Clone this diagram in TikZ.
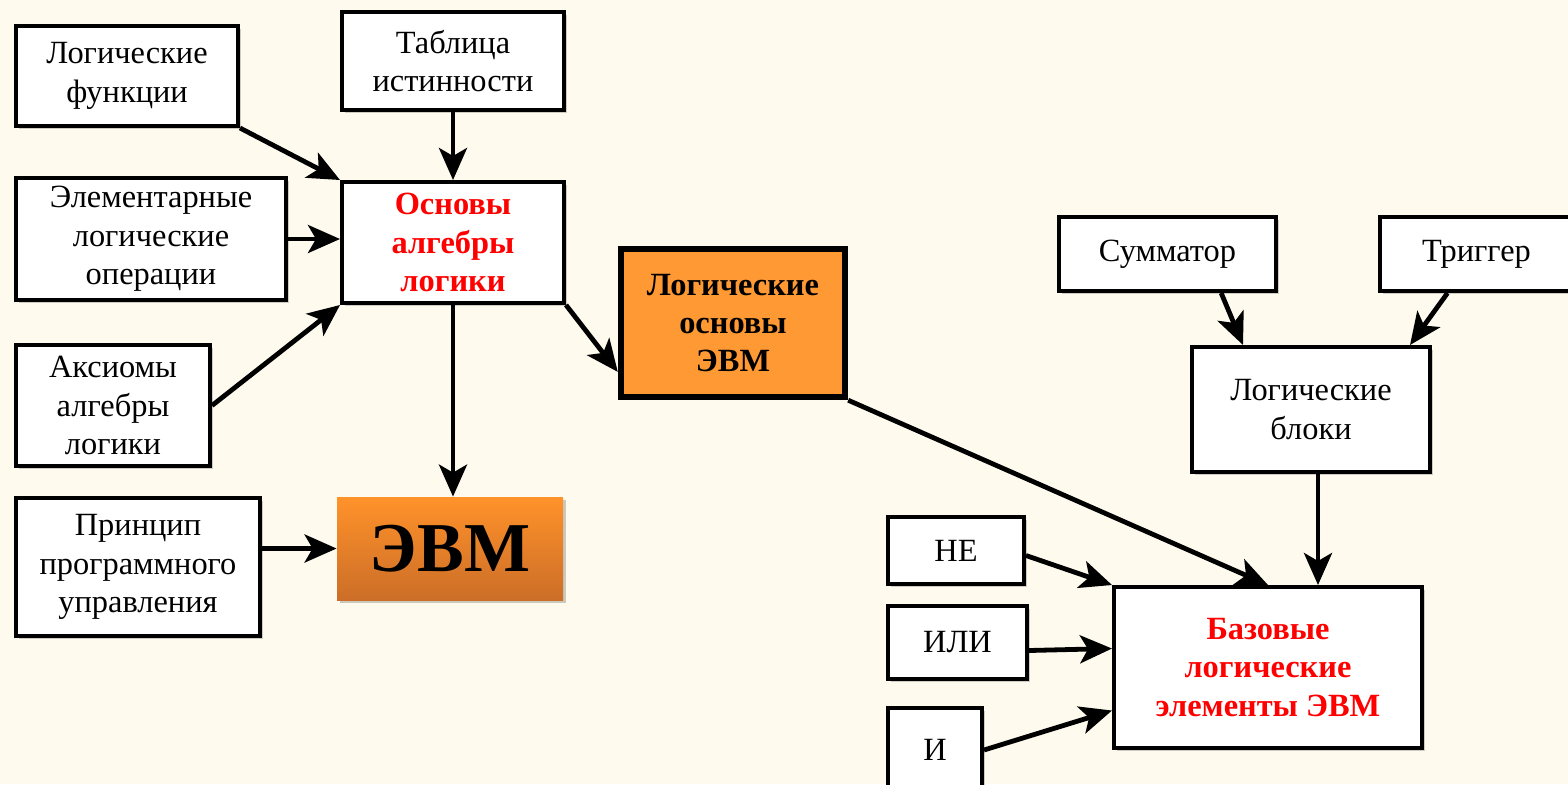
\documentclass[tikz,border=0pt]{standalone}
\usepackage{fontspec}
\setmainfont{Liberation Serif}
\usetikzlibrary{arrows.meta,calc,shadows}
\definecolor{bgcream}{RGB}{254,250,238}
\definecolor{boxorange}{RGB}{255,153,51}
\definecolor{evmtop}{RGB}{255,146,42}
\definecolor{evmbot}{RGB}{204,110,40}
\definecolor{hubred}{RGB}{255,0,0}

\begin{document}
\begin{tikzpicture}[x=0.5pt,y=-0.5pt,
    box/.style={draw=black,line width=2pt,fill=white,align=center,inner sep=0pt,
      font=\fontsize{16.2}{19.2}\selectfont,
      drop shadow={shadow xshift=1.5pt,shadow yshift=-1.5pt,opacity=0.18,fill=black}},
    hub/.style={box,font=\fontsize{16.2}{19.2}\selectfont\bfseries,text=hubred},
    arr/.style={line width=2.4pt,-{Stealth[length=16pt,width=14pt,inset=4pt]}}]
    % background and frame
    \fill[bgcream] (0,0) rectangle (1568,784);
    \useasboundingbox (0,0) rectangle (1568,784);
    \clip (0,0) rectangle (1568,784);

    % left part
    \node[box,minimum width=111pt,minimum height=50pt] (funk) at (127,76) {Логические\\функции};
    \node[box,minimum width=111pt,minimum height=49pt] (tabl) at (453,61) {Таблица\\истинности};
    \node[box,minimum width=135pt,minimum height=61pt] (elem) at (151,239) {Элементарные\\логические\\операции};
    \node[hub,minimum width=111pt,minimum height=60.5pt] (osn) at (453,242.5) {Основы\\алгебры\\логики};
    \node[box,minimum width=97pt,minimum height=60.5pt] (aks) at (113,405.5) {Аксиомы\\алгебры\\логики};
    \node[box,minimum width=122pt,minimum height=69pt] (prin) at (138,567) {Принцип\\программного\\управления};
    \node[top color=evmtop,bottom color=evmbot,minimum width=113pt,minimum height=51.5pt,
      font=\fontsize{35}{40}\selectfont\bfseries,
      drop shadow={shadow xshift=1.5pt,shadow yshift=-1.5pt,opacity=0.2,fill=black}] (evm) at (450,548.5) {ЭВМ};

    % middle
    \node[box,fill=boxorange,line width=3.2pt,minimum width=112pt,minimum height=74pt,
      font=\fontsize{16.2}{19.2}\selectfont\bfseries] (logosn) at (733,323) {Логические\\основы\\ЭВМ};

    % right part
    \node[box,minimum width=108.5pt,minimum height=37pt] (summ) at (1167.5,254) {Сумматор};
    \node[box,minimum width=96.5pt,minimum height=37pt] (trig) at (1476.5,254) {Триггер};
    \node[box,minimum width=119pt,minimum height=62.5pt] (bloki) at (1311,409.5) {Логические\\блоки};
    \node[box,minimum width=68pt,minimum height=33.5pt] (ne) at (956,550.5) {НЕ};
    \node[box,minimum width=69.5pt,minimum height=36.5pt] (ili) at (957.5,642.5) {ИЛИ};
    \node[box,minimum width=47pt,minimum height=42pt] (i) at (935,750) {И};
    \node[hub,minimum width=154pt,minimum height=80.5pt] (baz) at (1268,667.5) {Базовые\\логические\\элементы ЭВМ};

    % connectors
    \coordinate (blokiout) at ($(bloki.south)+(7,0)$);
    \draw[arr] (funk.south east) -- (osn.north west);
    \draw[arr] (tabl.south) -- (osn.north);
    \draw[arr] (elem.east) -- (elem.east -| osn.west);
    \draw[arr] (aks.east) -- (osn.south west);
    \draw[arr] (osn.south) -- (osn.south |- evm.north);
    \draw[arr] (prin.east |- evm.west) -- (evm.west);
    \draw[arr] (osn.south east) -- (logosn.203);
    \draw[arr] (logosn.south east) -- (baz.north);
    \draw[arr] (summ.-36) -- ($(bloki.north)+(-68,0)$);
    \draw[arr] ($(trig.south)+(-29,0)$) -- ($(bloki.north)+(99,0)$);
    \draw[arr] (blokiout) -- (blokiout |- baz.north);
    \draw[arr] ($(ne.east)+(0,5)$) -- (baz.north west);
    \draw[arr] ($(ili.east)+(0,8)$) -- ($(baz.west)+(0,-19)$);
    \draw[arr] (i.east) -- ($(baz.west)+(0,43)$);
\end{tikzpicture}
\end{document}
